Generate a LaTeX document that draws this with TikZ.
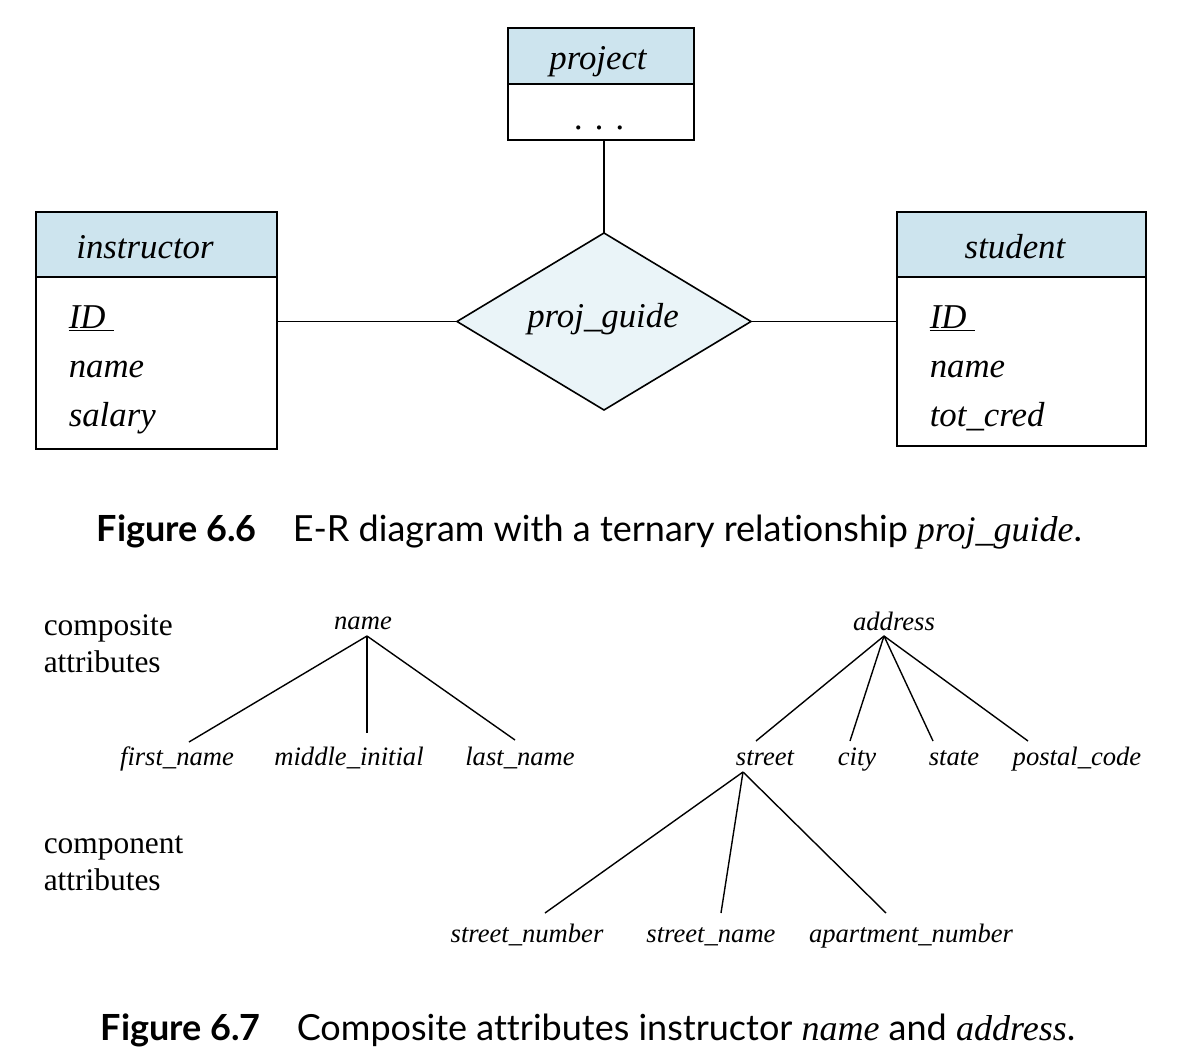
\documentclass[tikz,border=0pt]{standalone}
\usepackage{fontspec}
\setmainfont{Liberation Serif}
\newfontfamily\capfont[Ligatures=NoCommon]{Lato}
\usetikzlibrary{shapes.geometric}
\definecolor{hdr}{RGB}{205,228,238}
\definecolor{dia}{RGB}{234,244,248}
\begin{document}
\begin{tikzpicture}[x=0.5pt,y=-0.5pt,line width=0.8pt,
  hdrbox/.style={draw,fill=hdr,anchor=north west,inner sep=0pt,outer sep=0pt},
  bodybox/.style={draw,fill=white,anchor=north west,inner sep=0pt,outer sep=0pt},
  relbox/.style={draw,fill=dia,shape=diamond,inner sep=0pt,outer sep=0pt,minimum width=147pt,minimum height=88.5pt},
  big/.style={font=\fontsize{17.4}{20}\selectfont\itshape,inner sep=0pt,anchor=base},
  bigl/.style={font=\fontsize{17.4}{20}\selectfont\itshape,inner sep=0pt,anchor=base west},
  small/.style={font=\fontsize{13.3}{16}\selectfont\itshape,inner sep=0pt,anchor=base},
  side/.style={font=\fontsize{15.7}{18}\selectfont,inner sep=0pt,anchor=base west},
  figcap/.style={font=\fontsize{18}{22}\selectfont\capfont,inner sep=0pt,anchor=base west},
  tree/.style={line width=0.7pt}]
\useasboundingbox[fill=white] (0,0) rectangle (1178,1060);

% ---------- Figure 6.6 ----------
\node[hdrbox,minimum width=93pt,minimum height=28pt] (projh) at (508,28) {};
\node[bodybox,minimum width=93pt,minimum height=28pt] (projb) at (508,84) {};
\node[big] (projt) at (598,69) {project};
\node[big] (projd) at (600,129) {.\hspace{6pt}.\hspace{6pt}.};

\node[hdrbox,minimum width=120.5pt,minimum height=32.5pt] (insth) at (36,212) {};
\node[bodybox,minimum width=120.5pt,minimum height=86pt] (instb) at (36,277) {};
\node[big] (instt) at (145,258) {instructor};
\node[bigl] (instid) at (68,328) {\underline{ID\hspace{4pt}}};
\node[bigl] (instname) at (68,377) {name};
\node[bigl] (instsal) at (68,426) {salary};

\node[hdrbox,minimum width=124.5pt,minimum height=32.5pt] (studh) at (897,212) {};
\node[bodybox,minimum width=124.5pt,minimum height=84.5pt] (studb) at (897,277) {};
\node[big] (studt) at (1015,258) {student};
\node[bigl] (studid) at (929,328) {\underline{ID\hspace{4pt}}};
\node[bigl] (studname) at (929,377) {name};
\node[bigl] (studcred) at (929,426) {tot\_cred};

\node[relbox] (rel) at (604,321.5) {};
\node[big] (relt) at (603,327) {proj\_guide};

\draw (rel.north |- projb.south) -- (rel.north);
\draw (rel.west -| instb.east) -- (rel.west);
\draw (rel.east) -- (rel.east -| studb.west);

\node[figcap] (cap1) at (96,541) {\bfseries Figure 6.6\quad\mdseries E-R diagram with a ternary relationship {\rmfamily\itshape proj\_guide}.};

% ---------- Figure 6.7 ----------
\node[side] (comp1) at (43,635) {composite};
\node[side] (comp2) at (43,672) {attributes};
\node[side] (cmpn1) at (43,853) {component};
\node[side] (cmpn2) at (43,890) {attributes};

\node[small] (nm) at (363,629) {name};
\node[small] (fn) at (177,765) {first\_name};
\node[small] (mi) at (349,765) {middle\_initial};
\node[small] (ln) at (520,765) {last\_name};

\node[small] (addr) at (894,630) {address};
\node[small] (st) at (765,765) {street};
\node[small] (city) at (857,765) {city};
\node[small] (state) at (954,765) {state};
\node[small] (pc) at (1077,765) {postal\_code};

\node[small] (sn) at (527,942) {street\_number};
\node[small] (sname) at (711,942) {street\_name};
\node[small] (apt) at (911,942) {apartment\_number};

\draw[tree] ([shift={(2pt,-3.5pt)}]nm.base) -- ([shift={(6pt,11.5pt)}]fn.base);
\draw[tree] ([shift={(2pt,-3.5pt)}]nm.base) -- ([shift={(9pt,16pt)}]mi.base);
\draw[tree] ([shift={(2pt,-3.5pt)}]nm.base) -- ([shift={(-2.5pt,12.5pt)}]ln.base);

\draw[tree] ([shift={(-5pt,-3pt)}]addr.base) -- ([shift={(-4.5pt,12pt)}]st.base);
\draw[tree] ([shift={(-5pt,-3pt)}]addr.base) -- ([shift={(-3.5pt,12pt)}]city.base);
\draw[tree] ([shift={(-5pt,-3pt)}]addr.base) -- ([shift={(-10.5pt,12pt)}]state.base);
\draw[tree] ([shift={(-5pt,-3pt)}]addr.base) -- ([shift={(-24.5pt,12pt)}]pc.base);

\draw[tree] ([shift={(-11pt,-3.5pt)}]st.base) -- ([shift={(9pt,14.5pt)}]sn.base);
\draw[tree] ([shift={(-11pt,-3.5pt)}]st.base) -- ([shift={(5pt,14.5pt)}]sname.base);
\draw[tree] ([shift={(-11pt,-3.5pt)}]st.base) -- ([shift={(-12.5pt,14.5pt)}]apt.base);

\node[figcap] (cap2) at (100,1040) {\bfseries Figure 6.7\quad\mdseries Composite attributes instructor {\rmfamily\itshape name} and {\rmfamily\itshape address}.};
\end{tikzpicture}
\end{document}
